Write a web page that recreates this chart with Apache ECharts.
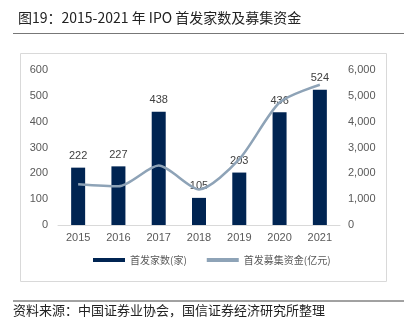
<!DOCTYPE html>
<html><head><meta charset="utf-8">
<script src="https://cdn.jsdelivr.net/npm/echarts@6/dist/echarts.min.js"></script>
<style>html,body{margin:0;padding:0;background:#fff}#c{width:416px;height:328px}</style>
</head><body><div id="c"></div>
<script>
const categories = ['2015','2016','2017','2018','2019','2020','2021'];
const ipoCount = [222, 227, 438, 105, 203, 436, 524];
const ipoFunds = [1578, 1496, 2301, 1378, 2550, 4742, 5427];
const leftTicks = [0, 100, 200, 300, 400, 500, 600];
const rightTicks = [0, 1000, 2000, 3000, 4000, 5000, 6000];
const titleText = '图19：2015-2021 年 IPO 首发家数及募集资金';
const sourceText = '资料来源：中国证券业协会，国信证券经济研究所整理';
const seriesNames = ['首发家数(家)', '首发募集资金(亿元)'];

const chart = echarts.init(document.getElementById('c'));
const numFont = 'Liberation Sans, Arial, sans-serif';
const cjk = '"Noto Sans CJK SC", sans-serif';
chart.setOption({
  animation: false,
  title: {text: titleText, left: 13, top: 6, textStyle: {fontFamily: cjk, fontSize: 14, fontWeight: 'normal', color: '#222'}},
  graphic: [
    {type: 'line', shape: {x1: 13, y1: 33.5, x2: 404, y2: 33.5}, style: {stroke: '#777', lineWidth: 1.2}},
    {type: 'rect', shape: {x: 20.5, y: 53.5, width: 366, height: 228}, style: {fill: 'none', stroke: '#d9d9d9', lineWidth: 1}},
    {type: 'line', shape: {x1: 13, y1: 301, x2: 404, y2: 301}, style: {stroke: '#444', lineWidth: 1}},
    {type: 'text', left: 13, top: 304, style: {text: sourceText, font: '13px "Noto Sans CJK SC", sans-serif', fill: '#222'}}
  ],
  legend: {
    bottom: 58, left: 88, itemGap: 20, itemWidth: 32, itemHeight: 4,
    textStyle: {fontFamily: cjk, fontSize: 10, color: '#595959'},
    data: [{name: seriesNames[0], icon: 'rect'}, {name: seriesNames[1], icon: 'rect', itemStyle: {color: '#8ea3b7'}}]
  },
  grid: {left: 58, right: 76, top: 70, bottom: 103},
  xAxis: {
    type: 'category', data: categories,
    axisLine: {lineStyle: {color: '#d9d9d9'}}, axisTick: {show: false},
    axisLabel: {color: '#595959', fontFamily: numFont, fontSize: 11, margin: 7}
  },
  yAxis: [
    {type: 'value', min: leftTicks[0], max: leftTicks[leftTicks.length-1], interval: 100, splitLine: {show: false},
     axisLabel: {color: '#595959', fontFamily: numFont, fontSize: 11, margin: 10}},
    {type: 'value', min: rightTicks[0], max: rightTicks[rightTicks.length-1], interval: 1000, splitLine: {show: false},
     axisLabel: {color: '#595959', fontFamily: numFont, fontSize: 11, margin: 8,
       formatter: v => v.toLocaleString('en-US')}}
  ],
  series: [
    {name: seriesNames[0], type: 'bar', data: ipoCount, barWidth: 14, itemStyle: {color: '#002452'},
     label: {show: true, position: 'top', distance: 6, color: '#404040', fontFamily: numFont, fontSize: 11}},
    {name: seriesNames[1], type: 'line', yAxisIndex: 1, data: ipoFunds, smooth: 0.25, symbol: 'none',
     lineStyle: {color: '#8ea3b7', width: 2.5}, itemStyle: {color: '#8ea3b7'}}
  ]
});
</script></body></html>
